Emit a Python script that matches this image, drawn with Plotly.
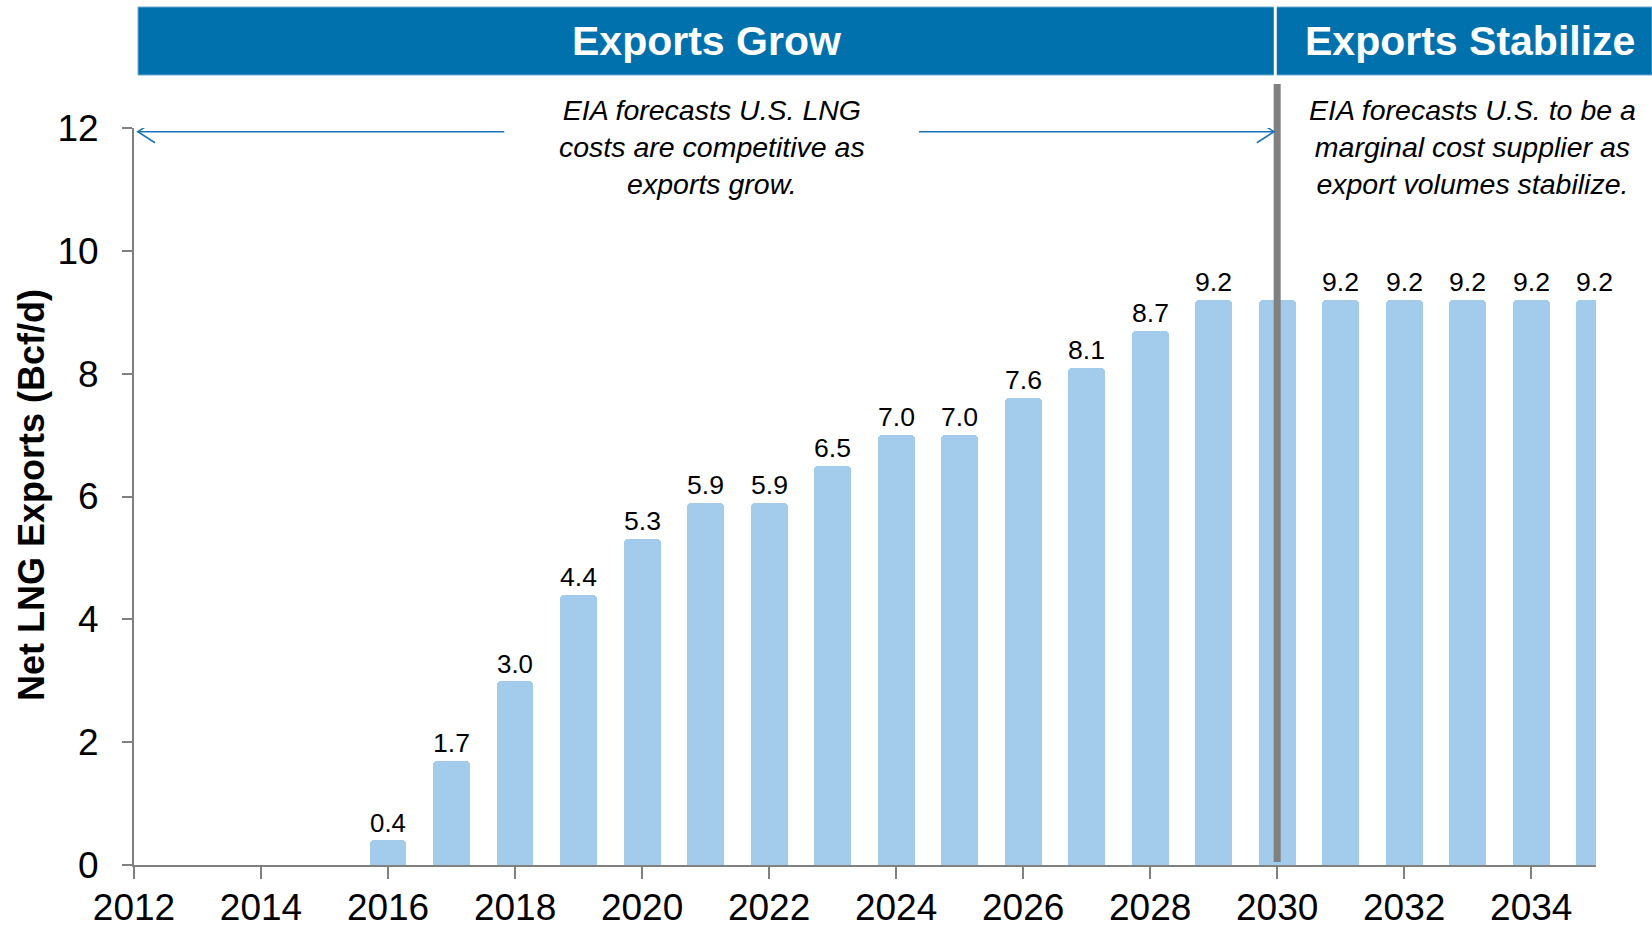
import plotly.graph_objects as go

# Net LNG exports by year (Bcf/d)
years = list(range(2016, 2036))
exports = [0.4, 1.7, 3.0, 4.4, 5.3, 5.9, 5.9, 6.5, 7.0, 7.0,
           7.6, 8.1, 8.7, 9.2, 9.2, 9.2, 9.2, 9.2, 9.2, 9.2]
# 2030 value is hidden behind the phase divider
labels = [f"{v:.1f}" if y != 2030 else "" for y, v in zip(years, exports)]

x_ticks = list(range(2012, 2036, 2))
y_ticks = list(range(0, 13, 2))

phase_titles = ["Exports Grow", "Exports Stabilize"]
phase_notes = [
    "EIA forecasts U.S. LNG<br>costs are competitive as<br>exports grow.",
    "EIA forecasts U.S. to be a<br>marginal cost supplier as<br>export volumes stabilize.",
]
phase_break = 2030

W, H = 1652, 927
ML, MR, MT, MB = 134, 56, 128, 62
PW, PH = W - ML - MR, H - MT - MB

FONT = "Liberation Sans, Arial, sans-serif"
BLUE = "#0171AE"
BAR = "#A2CBEC"
GRAY = "#808080"
ARROW = "#1B75B8"


def px(x):
    return (x - ML) / PW


def py(y):
    return (H - MB - y) / PH


fig = go.Figure()
fig.add_trace(go.Bar(
    x=years, y=exports, width=0.58,
    marker=dict(color=BAR, line=dict(width=0), cornerradius=4),
    text=labels, textposition="outside", cliponaxis=False,
    textfont=dict(family=FONT, size=29, color="black"),
    hoverinfo="skip",
))

shapes = []
# banner
shapes.append(dict(type="rect", xref="paper", yref="paper",
                   x0=px(138), x1=px(1652), y0=py(75), y1=py(7),
                   fillcolor=BLUE, line=dict(color="#6AAAD6", width=1), layer="above"))
shapes.append(dict(type="line", xref="x", yref="paper",
                   x0=phase_break - 0.03, x1=phase_break - 0.03, y0=py(76), y1=py(6),
                   line=dict(color="white", width=3), layer="above"))
# phase divider
shapes.append(dict(type="line", xref="x", yref="paper",
                   x0=phase_break, x1=phase_break, y0=py(862), y1=py(84),
                   line=dict(color=GRAY, width=7), layer="above"))

# double-headed arrow across the growth phase
ay = 11.94
x_left, x_right = 2012.06, phase_break - 0.05
gap_l, gap_r = 2017.83, 2024.36
hx, hy = 0.27, 0.18
for x0, x1 in [(x_left, gap_l), (gap_r, x_right)]:
    shapes.append(dict(type="line", xref="x", yref="y", x0=x0, x1=x1, y0=ay, y1=ay,
                       line=dict(color=ARROW, width=1.6), layer="above"))
shapes.append(dict(type="path", xref="x", yref="y",
                   path=f"M {x_left+hx},{ay+hy} L {x_left},{ay} L {x_left+hx},{ay-hy}",
                   line=dict(color=ARROW, width=1.6), layer="above"))
shapes.append(dict(type="path", xref="x", yref="y",
                   path=f"M {x_right-hx},{ay+hy} L {x_right},{ay} L {x_right-hx},{ay-hy}",
                   line=dict(color=ARROW, width=1.6), layer="above"))

annotations = []
for title, cx in zip(phase_titles, [706, 1470]):
    annotations.append(dict(text=title, xref="paper", yref="paper", x=px(cx), y=py(41),
                            showarrow=False, xanchor="center", yanchor="middle",
                            font=dict(family=FONT, size=41, color="white", weight="bold")))
for note, cx in zip(phase_notes, [712, 1472]):
    annotations.append(dict(text=f"<i>{note}</i>", xref="paper", yref="paper",
                            x=px(cx), y=py(147), showarrow=False,
                            xanchor="center", yanchor="middle", align="center",
                            font=dict(family=FONT, size=28.5, color="black")))
annotations.append(dict(text="<b>Net LNG Exports (Bcf/d)</b>", xref="paper", yref="paper",
                        x=px(32), y=py(495), textangle=-90, showarrow=False,
                        xanchor="center", yanchor="middle",
                        font=dict(family=FONT, size=36, color="black")))

fig.update_layout(
    width=W, height=H, autosize=False,
    margin=dict(l=ML, r=MR, t=MT, b=MB),
    paper_bgcolor="white", plot_bgcolor="white",
    showlegend=False, bargap=0,
    shapes=shapes, annotations=annotations,
    xaxis=dict(range=[2012, 2035.02], tickvals=x_ticks, ticks="outside", ticklen=12,
               tickwidth=2, tickcolor=GRAY, showline=True, linecolor=GRAY, linewidth=2,
               showgrid=False, zeroline=False, ticklabelstandoff=-3, automargin=False,
               tickfont=dict(family=FONT, size=37, color="black")),
    yaxis=dict(range=[0, 12], tickvals=y_ticks, ticks="outside", ticklen=10,
               tickwidth=2, tickcolor=GRAY, showline=True, linecolor=GRAY, linewidth=2,
               showgrid=False, zeroline=False, ticklabelstandoff=16, automargin=False,
               tickfont=dict(family=FONT, size=37, color="black")),
)

fig.write_html("out.html")
